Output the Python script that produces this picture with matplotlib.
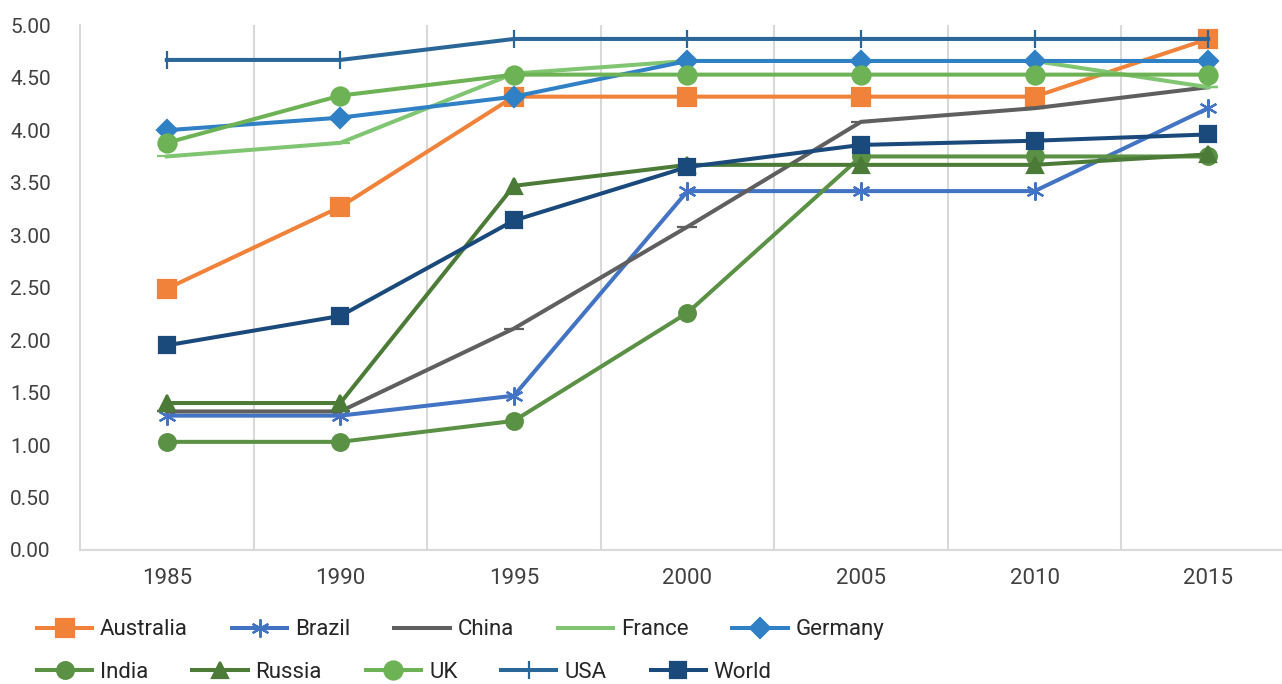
import matplotlib
matplotlib.use("Agg")
import matplotlib.pyplot as plt

plt.rcParams["font.family"] = ["Roboto", "DejaVu Sans"]

years = ["1985", "1990", "1995", "2000", "2005", "2010", "2015"]

australia = [2.49, 3.27, 4.32, 4.32, 4.32, 4.32, 4.87]
brazil = [1.28, 1.28, 1.47, 3.42, 3.42, 3.42, 4.21]
china = [1.32, 1.32, 2.11, 3.08, 4.08, 4.21, 4.41]
france = [3.75, 3.88, 4.54, 4.66, 4.66, 4.66, 4.41]
germany = [4.00, 4.12, 4.32, 4.66, 4.66, 4.66, 4.66]
india = [1.03, 1.03, 1.23, 2.26, 3.75, 3.75, 3.75]
russia = [1.40, 1.40, 3.47, 3.67, 3.67, 3.67, 3.77]
uk = [3.88, 4.33, 4.53, 4.53, 4.53, 4.53, 4.53]
usa = [4.67, 4.67, 4.87, 4.87, 4.87, 4.87, 4.87]
world = [1.95, 2.23, 3.14, 3.65, 3.86, 3.90, 3.96]

series = [
    ("Australia", australia, "#F0823A", "s", 13),
    ("Brazil", brazil, "#4374C4", (6, 2, 0), 13),
    ("China", china, "#5F5F5F", "_", 14),
    ("France", france, "#80C571", "_", 14),
    ("Germany", germany, "#2F80C5", "D", 10),
    ("India", india, "#5A9144", "o", 12),
    ("Russia", russia, "#4C7B38", "^", 11),
    ("UK", uk, "#6DB254", "o", 13),
    ("USA", usa, "#2B6699", "|", 13),
    ("World", world, "#1A4A7C", "s", 12),
]

fig = plt.figure(figsize=(12.82, 6.84), dpi=100)
ax = fig.add_axes([0.0624, 0.196, 0.9477, 0.767])

x = range(len(years))
handles = []
for name, vals, color, marker, ms in series:
    (h,) = ax.plot(x, vals, color=color, lw=2.9, marker=marker, markersize=ms,
                   markerfacecolor=color, markeredgecolor=color, markeredgewidth=1.6,
                   label=name, solid_joinstyle="miter", clip_on=False)
    handles.append(h)

ax.set_xlim(-0.5, len(years) - 0.5)
ax.set_ylim(0, 5)
ax.set_yticks([i * 0.5 for i in range(11)])
ax.set_yticklabels([f"{i * 0.5:.2f}" for i in range(11)], fontsize=15, color="#404040")
ax.set_xticks(list(x))
ax.set_xticklabels(years, fontsize=16, color="#404040")

for b in [i + 0.5 for i in range(len(years) - 1)]:
    ax.axvline(b, color="#D9D9D9", lw=1.5, zorder=0)

for s in ["top", "right"]:
    ax.spines[s].set_visible(False)
for s in ["left", "bottom"]:
    ax.spines[s].set_color("#D9D9D9")
    ax.spines[s].set_linewidth(1.5)
ax.tick_params(axis="x", length=0, pad=13)
ax.tick_params(axis="y", length=0, pad=21)

leg_kw = dict(ncol=5, frameon=False, fontsize=16, handlelength=2.48, handletextpad=0.36,
              columnspacing=1.98, borderaxespad=0, borderpad=0, labelcolor="#262626")
leg1 = fig.legend(handles=handles[:5], loc="center left", bbox_to_anchor=(0.0289, 0.079), **leg_kw)
leg2 = fig.legend(handles=handles[5:], loc="center left", bbox_to_anchor=(0.0289, 0.0175), **leg_kw)

fig.savefig("out.png", dpi=100)
